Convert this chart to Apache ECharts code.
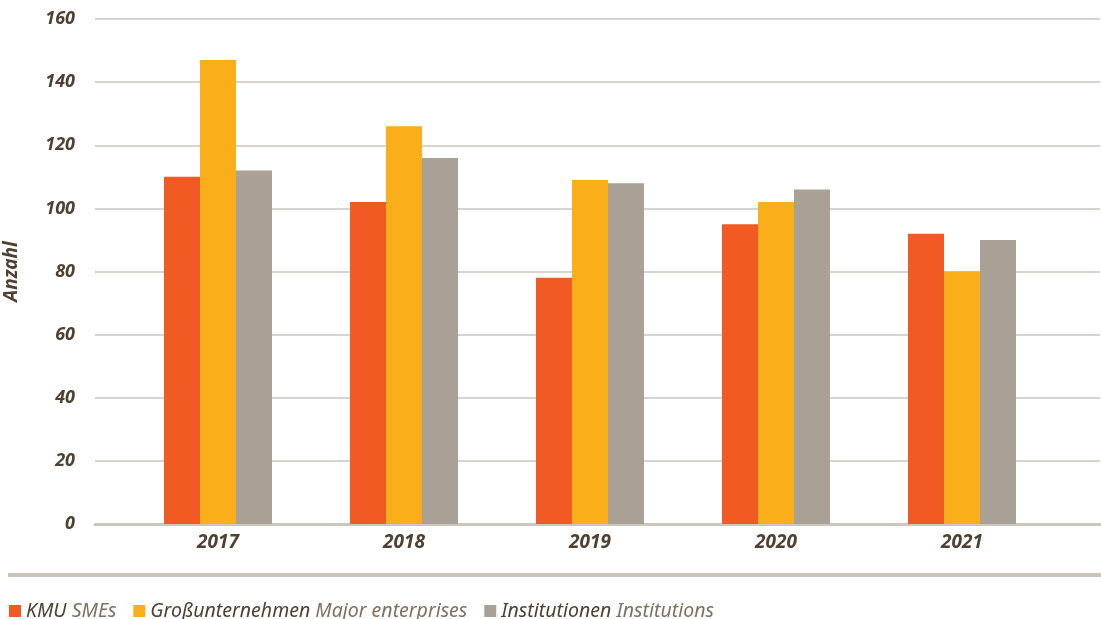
<!DOCTYPE html>
<html>
<head>
<meta charset="utf-8">
<script src="https://cdn.jsdelivr.net/npm/echarts@6/dist/echarts.min.js"></script>
<style>
html,body{margin:0;padding:0;background:#fff;}
#chart{width:1101px;height:619px;}
</style>
</head>
<body>
<div id="chart"></div>
<script>
const categories = ['2017', '2018', '2019', '2020', '2021'];
const seriesNamesDe = ['KMU', 'Großunternehmen', 'Institutionen'];
const seriesNamesEn = ['SMEs', 'Major enterprises', 'Institutions'];
const kmu = [110, 102, 78, 95, 92];
const gross = [147, 126, 109, 102, 80];
const inst = [112, 116, 108, 106, 90];
const yTicks = { min: 0, max: 160, interval: 20 };
const yAxisName = 'Anzahl';

const colors = ['#f15a22', '#f9ae1a', '#a9a096'];
const axisFont = '"Open Sans", "Noto Sans", sans-serif';
const legendFont = '"Noto Sans", "Open Sans", sans-serif';
const dark = '#4f4132';

const chart = echarts.init(document.getElementById('chart'), null, { renderer: 'canvas' });
const seriesData = [kmu, gross, inst];
const enByDe = {};
seriesNamesDe.forEach((n, i) => enByDe[n] = seriesNamesEn[i]);

chart.setOption({
  backgroundColor: '#ffffff',
  animation: false,
  color: colors,
  grid: [
    { left: 95, right: 1, top: 19, bottom: 95, containLabel: false, outerBoundsMode: 'none' },
    { left: 125, right: 46, top: 19, bottom: 95, containLabel: false, outerBoundsMode: 'none' }
  ],
  xAxis: [
    { gridIndex: 0, type: 'value', min: 0, max: 1, show: true,
      axisLine: { show: true, lineStyle: { color: '#cdc6bd', width: 3 } },
      axisTick: { show: false }, axisLabel: { show: false }, splitLine: { show: false } },
    { gridIndex: 1, type: 'category', data: categories,
      axisLine: { show: false }, axisTick: { show: false },
      axisLabel: { margin: 9, color: dark, fontSize: 19, fontWeight: 'bold', fontStyle: 'italic', fontFamily: axisFont } }
  ],
  yAxis: [
    { gridIndex: 0, type: 'value', min: yTicks.min, max: yTicks.max, interval: yTicks.interval,
      name: yAxisName, nameLocation: 'middle', nameGap: 74, nameRotate: 90,
      nameTextStyle: { color: dark, fontSize: 19, fontWeight: 'bold', fontStyle: 'italic', fontFamily: axisFont },
      axisLine: { show: false }, axisTick: { show: false },
      axisLabel: { margin: 20, color: dark, fontSize: 18, fontWeight: 'bold', fontStyle: 'italic', fontFamily: axisFont },
      splitLine: { show: true, lineStyle: { color: '#d8d3cc', width: 2 } } },
    { gridIndex: 1, type: 'value', min: yTicks.min, max: yTicks.max, interval: yTicks.interval, show: false,
      splitLine: { show: false } }
  ],
  legend: {
    left: 4, top: 596, icon: 'rect', itemWidth: 12, itemHeight: 12, itemGap: 17,
    data: seriesNamesDe,
    formatter: n => '{a|' + n + '} {b|' + enByDe[n] + '}',
    textStyle: {
      fontSize: 19.5, fontStyle: 'italic', fontFamily: legendFont,
      rich: {
        a: { color: dark, fontSize: 19.5, fontStyle: 'italic', fontFamily: legendFont },
        b: { color: '#7f7062', fontSize: 19.5, fontStyle: 'italic', fontFamily: legendFont }
      }
    }
  },
  graphic: [
    { type: 'rect', left: 8, top: 573, shape: { width: 1093, height: 4 }, style: { fill: '#cbc3b9' }, silent: true }
  ],
  series: seriesNamesDe.map((n, i) => ({
    name: n, type: 'bar', xAxisIndex: 1, yAxisIndex: 1,
    data: seriesData[i], barWidth: 36, barGap: '0%', barCategoryGap: '42%',
    itemStyle: { color: colors[i] }
  }))
});
</script>
</body>
</html>
